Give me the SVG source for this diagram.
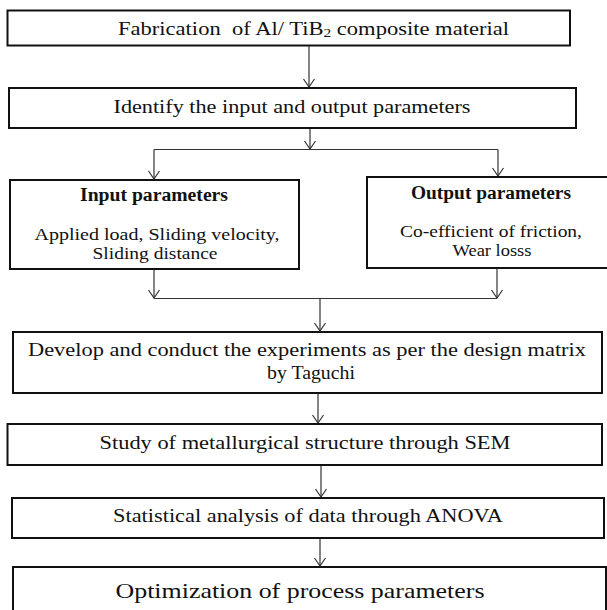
<svg xmlns="http://www.w3.org/2000/svg" width="607" height="610" viewBox="0 0 607 610">
<style>
.box{fill:#fff;stroke:#111;stroke-width:2}
.t{font-family:"Liberation Serif","Times New Roman",serif;font-size:19px;fill:#111;text-anchor:middle}
.b{font-weight:bold;font-size:18px}
.s{font-size:17px}
.c{fill:none;stroke:#333;stroke-width:1.2}
</style>
<defs>
<marker id="ah" markerUnits="userSpaceOnUse" viewBox="-10 -7 12 14" markerWidth="12" markerHeight="14" refX="0" refY="0" orient="auto" overflow="visible">
<path d="M-8,-5.5 L0,0 L-8,5.5" fill="none" stroke="#333" stroke-width="1.2"/>
</marker>
</defs>
<rect width="607" height="610" fill="#fff"/>
<g id="connectors">
<line class="c" x1="309" y1="46" x2="309" y2="87" marker-end="url(#ah)"/>
<line class="c" x1="310" y1="128" x2="310" y2="149" marker-end="url(#ah)"/>
<line class="c" x1="154" y1="149.5" x2="498" y2="149.5"/>
<line class="c" x1="154" y1="149.5" x2="154" y2="179" marker-end="url(#ah)"/>
<line class="c" x1="498" y1="149.5" x2="498" y2="176" marker-end="url(#ah)"/>
<line class="c" x1="154" y1="269" x2="154" y2="298" marker-end="url(#ah)"/>
<line class="c" x1="497" y1="268" x2="497" y2="298" marker-end="url(#ah)"/>
<line class="c" x1="154" y1="298.5" x2="497" y2="298.5"/>
<line class="c" x1="320" y1="298.5" x2="320" y2="331" marker-end="url(#ah)"/>
<line class="c" x1="318" y1="393" x2="318" y2="423" marker-end="url(#ah)"/>
<line class="c" x1="321" y1="465" x2="321" y2="497" marker-end="url(#ah)"/>
<line class="c" x1="320" y1="538" x2="320" y2="566" marker-end="url(#ah)"/>
</g>
<g id="n1">
<rect class="box" x="7.5" y="10.5" width="562.5" height="35"/>
<text class="t" x="118" y="35" style="text-anchor:start" textLength="391" lengthAdjust="spacingAndGlyphs" xml:space="preserve">Fabrication  of Al/ TiB<tspan font-size="13" dy="2">2</tspan><tspan dy="-2"> composite material</tspan></text>
</g>
<g id="n2">
<rect class="box" x="9" y="88" width="567" height="40"/>
<text class="t" x="292" y="113" textLength="357" lengthAdjust="spacingAndGlyphs">Identify the input and output parameters</text>
</g>
<g id="n3">
<rect class="box" x="10" y="180" width="289" height="89"/>
<text class="t b" x="154" y="201" textLength="148" lengthAdjust="spacingAndGlyphs">Input parameters</text>
<text class="t s" x="157" y="240" textLength="245" lengthAdjust="spacingAndGlyphs">Applied load, Sliding velocity,</text>
<text class="t s" x="155" y="259" textLength="125" lengthAdjust="spacingAndGlyphs">Sliding distance</text>
</g>
<g id="n4">
<rect class="box" x="367" y="177" width="260" height="91"/>
<text class="t b" x="491" y="199" textLength="160" lengthAdjust="spacingAndGlyphs">Output parameters</text>
<text class="t s" x="491" y="237" textLength="182" lengthAdjust="spacingAndGlyphs">Co-efficient of friction,</text>
<text class="t s" x="492" y="256" textLength="79" lengthAdjust="spacingAndGlyphs">Wear losss</text>
</g>
<g id="n5">
<rect class="box" x="13" y="332" width="589" height="61"/>
<text class="t" x="307" y="356" textLength="558" lengthAdjust="spacingAndGlyphs">Develop and conduct the experiments as per the design matrix</text>
<text class="t" x="311" y="379" textLength="88" lengthAdjust="spacingAndGlyphs">by Taguchi</text>
</g>
<g id="n6">
<rect class="box" x="7.5" y="424" width="594.5" height="41"/>
<text class="t" x="305" y="449" textLength="411" lengthAdjust="spacingAndGlyphs">Study of metallurgical structure through SEM</text>
</g>
<g id="n7">
<rect class="box" x="12" y="498" width="592" height="40"/>
<text class="t" x="308" y="522" textLength="390" lengthAdjust="spacingAndGlyphs">Statistical analysis of data through ANOVA</text>
</g>
<g id="n8">
<rect class="box" x="13" y="567" width="593" height="60"/>
<text class="t" x="300" y="598" style="font-size:22px" textLength="369" lengthAdjust="spacingAndGlyphs">Optimization of process parameters</text>
</g>
</svg>
